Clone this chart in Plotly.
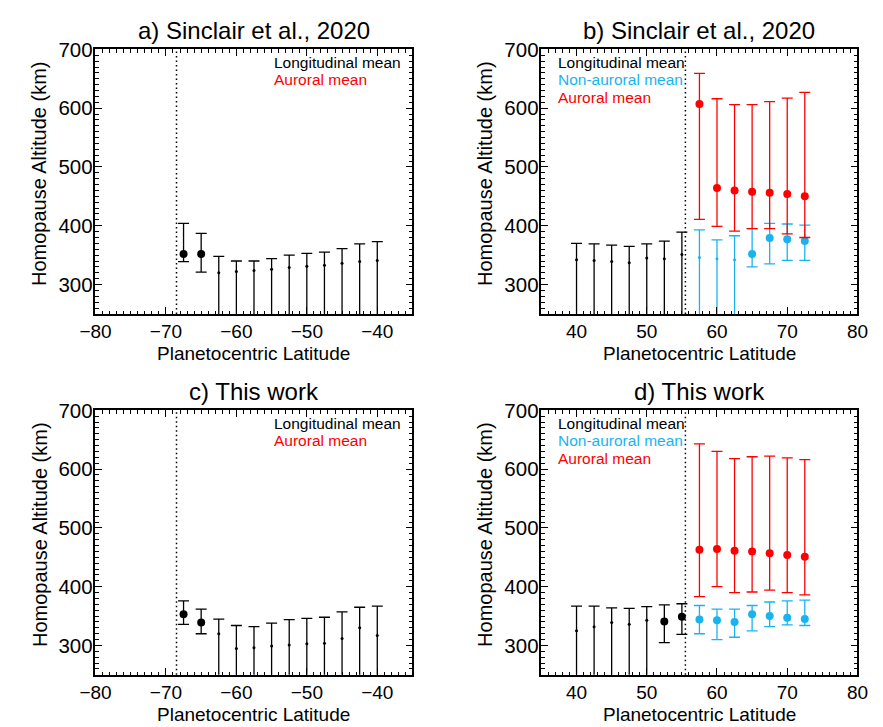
import plotly.graph_objects as go

W, H = 883, 727

# ---------------------------------------------------------------- data
# Latitude bins (planetocentric, degrees)
lat_south = [-67.5, -65.0, -62.5, -60.0, -57.5, -55.0, -52.5, -50.0, -47.5, -45.0, -42.5, -40.0]
lat_north_long = [40.0, 42.5, 45.0, 47.5, 50.0, 52.5, 55.0]
lat_north_aur = [57.5, 60.0, 62.5, 65.0, 67.5, 70.0, 72.5]

# Auroral boundary latitudes
boundary_south = -68.5
boundary_north = 55.5

# Homopause altitudes (km): mean, upper bound, lower bound (None = unconstrained below)
# a) Sinclair et al., 2020 - south
a_long_mean = [352, 352, 320, 322, 324, 326, 329, 331, 333, 336, 339, 341]
a_long_upper = [404, 387, 348, 340, 340, 344, 350, 353, 355, 361, 369, 373]
a_long_lower = [339, 321, None, None, None, None, None, None, None, None, None, None]

# b) Sinclair et al., 2020 - north
b_long_mean = [342, 341, 339, 337, 345, 344, 351]
b_long_upper = [370, 369, 367, 365, 369, 374, 389]
b_long_lower = [None, None, None, None, None, None, None]
b_nonaur_mean = [346, 344, 342, 352, 379, 377, 374]
b_nonaur_upper = [393, 376, 383, 395, 404, 403, 401]
b_nonaur_lower = [None, None, None, 330, 335, 341, 341]
b_aur_mean = [607, 464, 460, 458, 456, 454, 450]
b_aur_upper = [659, 616, 606, 606, 611, 617, 627]
b_aur_lower = [411, 399, 391, 395, 395, 386, 380]

# c) This work - south
c_long_mean = [353, 339, 320, 295, 296, 299, 301, 303, 304, 312, 330, 317]
c_long_upper = [376, 362, 345, 334, 332, 338, 344, 346, 348, 357, 365, 367]
c_long_lower = [336, 320, None, None, None, None, None, None, None, None, None, None]

# d) This work - north
d_long_mean = [325, 332, 339, 336, 343, 341, 349]
d_long_upper = [367, 367, 364, 363, 366, 369, 371]
d_long_lower = [None, None, None, None, None, 305, 319]
d_nonaur_mean = [344, 343, 340, 353, 350, 347, 345]
d_nonaur_upper = [368, 362, 362, 368, 374, 376, 377]
d_nonaur_lower = [320, 310, 314, 325, 332, 335, 334]
d_aur_mean = [463, 464, 461, 460, 457, 454, 451]
d_aur_upper = [643, 630, 618, 621, 622, 619, 616]
d_aur_lower = [383, 400, 390, 391, 394, 390, 386]

panel_titles = ["a) Sinclair et al., 2020", "b) Sinclair et al., 2020",
                "c) This work", "d) This work"]
x_title = "Planetocentric Latitude"
y_title = "Homopause Altitude (km)"
lbl_long = "Longitudinal mean"
lbl_nonaur = "Non-auroral mean"
lbl_aur = "Auroral mean"

# ---------------------------------------------------------------- style
BLACK = "#000000"
BLUE = "#19b4f0"
RED = "#ff0000"
FONT = "Liberation Sans"

# panel frames in pixels (left, right, top, bottom)
frames = {
    "a": (82, 409, 38, 307),
    "b": (542, 868, 38, 307),
    "c": (82, 409, 405, 674),
    "d": (542, 868, 405, 674),
}
axis_ids = {"a": ("x", "y"), "b": ("x2", "y2"), "c": ("x3", "y3"), "d": ("x4", "y4")}


def px(x):
    return x / W


def py(y):
    return 1 - y / H


fig = go.Figure()


def add_series(panel, lat, mean, upper, lower, color):
    xa, ya = axis_ids[panel]
    # an unconstrained lower bound runs the bar down to 0 km
    lo = [l if l is not None else 0 for l in lower]
    sizes = [8 if l is not None else 3 for l in lower]
    fig.add_trace(go.Scatter(
        x=lat, y=mean, mode="markers", xaxis=xa, yaxis=ya,
        marker=dict(color=color, size=sizes, opacity=1, line=dict(width=0)),
        error_y=dict(type="data", symmetric=False,
                     array=[u - m for u, m in zip(upper, mean)],
                     arrayminus=[m - l for m, l in zip(mean, lo)],
                     color=color, thickness=1.3, width=5.5),
        showlegend=False, hoverinfo="skip",
    ))


add_series("a", lat_south, a_long_mean, a_long_upper, a_long_lower, BLACK)
add_series("b", lat_north_long, b_long_mean, b_long_upper, b_long_lower, BLACK)
add_series("b", lat_north_aur, b_nonaur_mean, b_nonaur_upper, b_nonaur_lower, BLUE)
add_series("b", lat_north_aur, b_aur_mean, b_aur_upper, b_aur_lower, RED)
add_series("c", lat_south, c_long_mean, c_long_upper, c_long_lower, BLACK)
add_series("d", lat_north_long, d_long_mean, d_long_upper, d_long_lower, BLACK)
add_series("d", lat_north_aur, d_nonaur_mean, d_nonaur_upper, d_nonaur_lower, BLUE)
add_series("d", lat_north_aur, d_aur_mean, d_aur_upper, d_aur_lower, RED)

xtickfont = dict(family=FONT, size=19, color=BLACK)
ytickfont = dict(family=FONT, size=20.5, color=BLACK)
layout = dict(
    width=W, height=H, margin=dict(l=0, r=0, t=0, b=0),
    paper_bgcolor="white", plot_bgcolor="white", showlegend=False,
    font=dict(family=FONT, color=BLACK),
)

for key, (l, r, t, b) in frames.items():
    xa, ya = axis_ids[key]
    xname = "xaxis" + xa[1:]
    yname = "yaxis" + ya[1:]
    south = key in ("a", "c")
    layout[xname] = dict(
        domain=[px(l), px(r)], anchor=ya,
        range=[-80, -35] if south else [35, 80],
        tick0=0, dtick=10, ticks="inside", ticklen=7, tickwidth=1.2,
        tickcolor=BLACK, showline=True, linecolor=BLACK, linewidth=1.5,
        mirror="allticks", showgrid=False, zeroline=False, tickfont=xtickfont,
        minor=dict(ticks="inside", dtick=1, ticklen=3.5, tickwidth=1, tickcolor=BLACK, showgrid=False),
    )
    layout[yname] = dict(
        domain=[py(b), py(t)], anchor=xa,
        range=[250, 700], tick0=0, dtick=100, ticks="inside", ticklen=7, tickwidth=1.2,
        tickcolor=BLACK, showline=True, linecolor=BLACK, linewidth=1.5,
        mirror="allticks", showgrid=False, zeroline=False, tickfont=ytickfont,
        ticklabelstandoff=-3,
        minor=dict(ticks="inside", dtick=10, ticklen=3.5, tickwidth=1, tickcolor=BLACK, showgrid=False),
    )

fig.update_layout(**layout)

# auroral boundary markers
for key in frames:
    xa, ya = axis_ids[key]
    xb = boundary_south if key in ("a", "c") else boundary_north
    fig.add_shape(type="line", xref=xa, yref=ya + " domain", x0=xb, x1=xb, y0=0, y1=1,
                  line=dict(color=BLACK, width=1.5, dash="1.5px,3px"))

annotations = []
for key, title in zip(frames, panel_titles):
    l, r, t, b = frames[key]
    cx = (l + r) / 2
    annotations.append(dict(text=title, x=px(cx), y=py(t - 19), xref="paper", yref="paper",
                            xanchor="center", yanchor="middle", showarrow=False,
                            font=dict(family=FONT, size=24, color=BLACK)))
    annotations.append(dict(text=x_title, x=px(cx), y=py(b + 40), xref="paper", yref="paper",
                            xanchor="center", yanchor="middle", showarrow=False,
                            font=dict(family=FONT, size=19, color=BLACK)))
    annotations.append(dict(text=y_title, x=px(l - 58), y=py((t + b) / 2 - 8), xref="paper",
                            yref="paper", xanchor="center", yanchor="middle", textangle=-90,
                            showarrow=False, font=dict(family=FONT, size=20, color=BLACK)))
    south = key in ("a", "c")
    labels = [(lbl_long, BLACK), (lbl_aur, RED)] if south else \
        [(lbl_long, BLACK), (lbl_nonaur, BLUE), (lbl_aur, RED)]
    lx = l + 182 if south else l + 15
    for i, (txt, col) in enumerate(labels):
        annotations.append(dict(text=txt, x=px(lx), y=py(t + 13 + 18 * i), xref="paper",
                                yref="paper", xanchor="left", yanchor="middle", showarrow=False,
                                font=dict(family=FONT, size=15.5, color=col)))

fig.update_layout(annotations=annotations)
fig.write_html("out.html")
